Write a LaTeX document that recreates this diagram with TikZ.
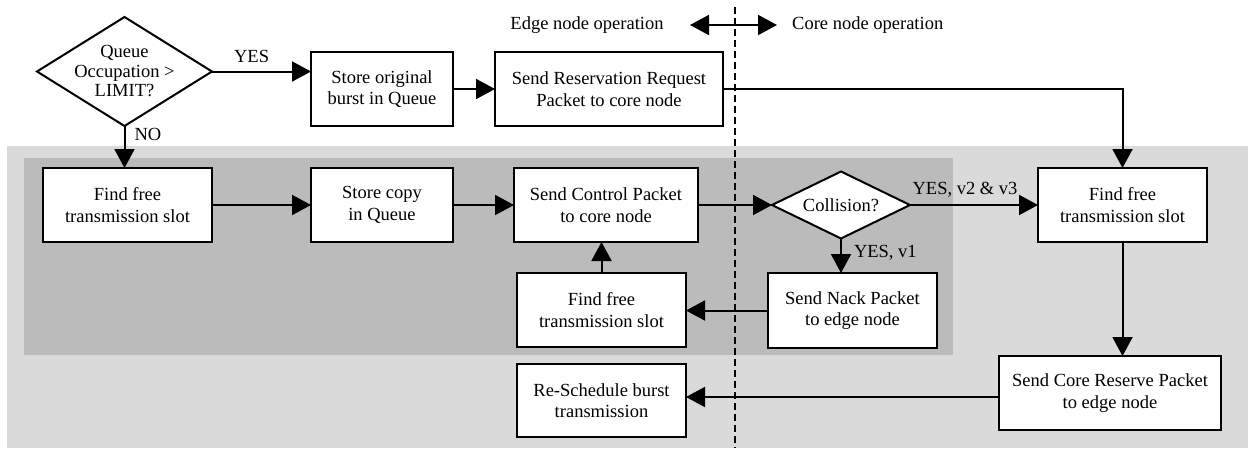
\documentclass[tikz,border=0pt]{standalone}
\usepackage{fontspec}
\setmainfont{Liberation Serif}
\usetikzlibrary{arrows.meta,shapes.geometric}
\definecolor{lightbg}{RGB}{218,218,218}
\definecolor{darkbg}{RGB}{187,187,187}
\begin{document}
\begin{tikzpicture}[x=1pt,y=-1pt,
  every node/.style={font=\fontsize{18.5}{21.5}\selectfont},
  box/.style={draw, fill=white, line width=2pt, align=center, inner sep=0pt, outer sep=0pt},
  dia/.style={draw, fill=white, diamond, line width=2pt, inner sep=0pt, outer sep=0pt},
  arr/.style={line width=2pt, -{Triangle[length=19pt,width=20pt]}},
  darr/.style={line width=2pt, {Triangle[length=19pt,width=20pt]}-{Triangle[length=19pt,width=20pt]}},
  sep/.style={line width=1.8pt, dash pattern=on 7pt off 4pt},
  lbl/.style={inner sep=0pt}]
\useasboundingbox (0,0) rectangle (1248,448);
% backgrounds
\fill[lightbg] (7,146) rectangle (1248,448);
\fill[darkbg] (24,158) rectangle (953,355);
% separator
\coordinate (dtop) at (735,7);
\coordinate (dbot) at (735,448);
\draw[sep] (dtop) -- (dbot);
% header
\node[lbl] (edgeop) at (587,25) {Edge node operation};
\node[lbl, anchor=west] (coreop) at (792,25) {Core node operation};
\coordinate (da) at (690,25);
\coordinate (db) at (777,25);
\draw[darr] (da) -- (db);
% nodes
\node[dia, minimum width=175pt, minimum height=109pt,
  label={[align=center, inner sep=0pt, font=\fontsize{18.5}{19.5}\selectfont]center:Queue\\Occupation >\\LIMIT?}] (q) at (124.5,71.5) {};
\node[box, minimum width=142pt, minimum height=74pt] (orig) at (382,89) {Store original\\burst in Queue};
\node[box, minimum width=228pt, minimum height=74pt] (resv) at (609,89) {Send Reservation Request\\Packet to core node};
\node[box, minimum width=169pt, minimum height=74pt] (ff1) at (127.5,205) {Find free\\transmission slot};
\node[box, minimum width=142pt, minimum height=74pt] (copy) at (382,205) {Store copy\\in Queue};
\node[box, minimum width=184pt, minimum height=74pt] (ctrl) at (606,205) {Send Control Packet\\to core node};
\node[dia, minimum width=138pt, minimum height=67pt,
  label={[inner sep=0pt]center:Collision?}] (coll) at (841,205) {};
\node[box, minimum width=169pt, minimum height=74pt] (ffR) at (1122.5,205) {Find free\\transmission slot};
\node[box, minimum width=169pt, minimum height=75pt] (nack) at (852.5,310.5) {Send Nack Packet\\to edge node};
\node[box, minimum width=169pt, minimum height=74pt] (ffM) at (601.5,310) {Find free\\transmission slot};
\node[box, minimum width=169pt, minimum height=73pt] (resch) at (601.5,400.5) {Re-Schedule burst\\transmission};
\node[box, minimum width=222pt, minimum height=74pt] (core) at (1110,393) {Send Core Reserve Packet\\to edge node};
% connectors
\draw[arr] (q.east) -- (q.east -| orig.west) node[lbl, pos=0.4, above=8pt] (yes1) {YES};
\draw[arr] (q.south) -- (q.south |- ff1.north) node[lbl, pos=0.2, right=9pt] (no1) {NO};
\draw[arr] (orig.east) -- (resv.west);
\draw[arr] (resv.east) -| (ffR.north);
\draw[arr] (ff1.east) -- (copy.west);
\draw[arr] (copy.east) -- (ctrl.west);
\draw[arr] (ctrl.east) -- (coll.west);
\draw[arr] (coll.east) -- (ffR.west) node[lbl, pos=0.43, above=7pt] (yes2) {YES, v2 \& v3};
\draw[arr] (coll.south) -- (coll.south |- nack.north) node[lbl, pos=0.4, right=12pt] (yes3) {YES, v1};
\draw[arr] (nack.west) -- (nack.west -| ffM.east);
\draw[arr] (ffM.north) -- (ffM.north |- ctrl.south);
\draw[arr] (ffR.south) -- (ffR.south |- core.north);
\draw[arr] ([yshift=-4pt]core.west) -- ([yshift=-4pt]core.west -| resch.east);
\end{tikzpicture}
\end{document}
